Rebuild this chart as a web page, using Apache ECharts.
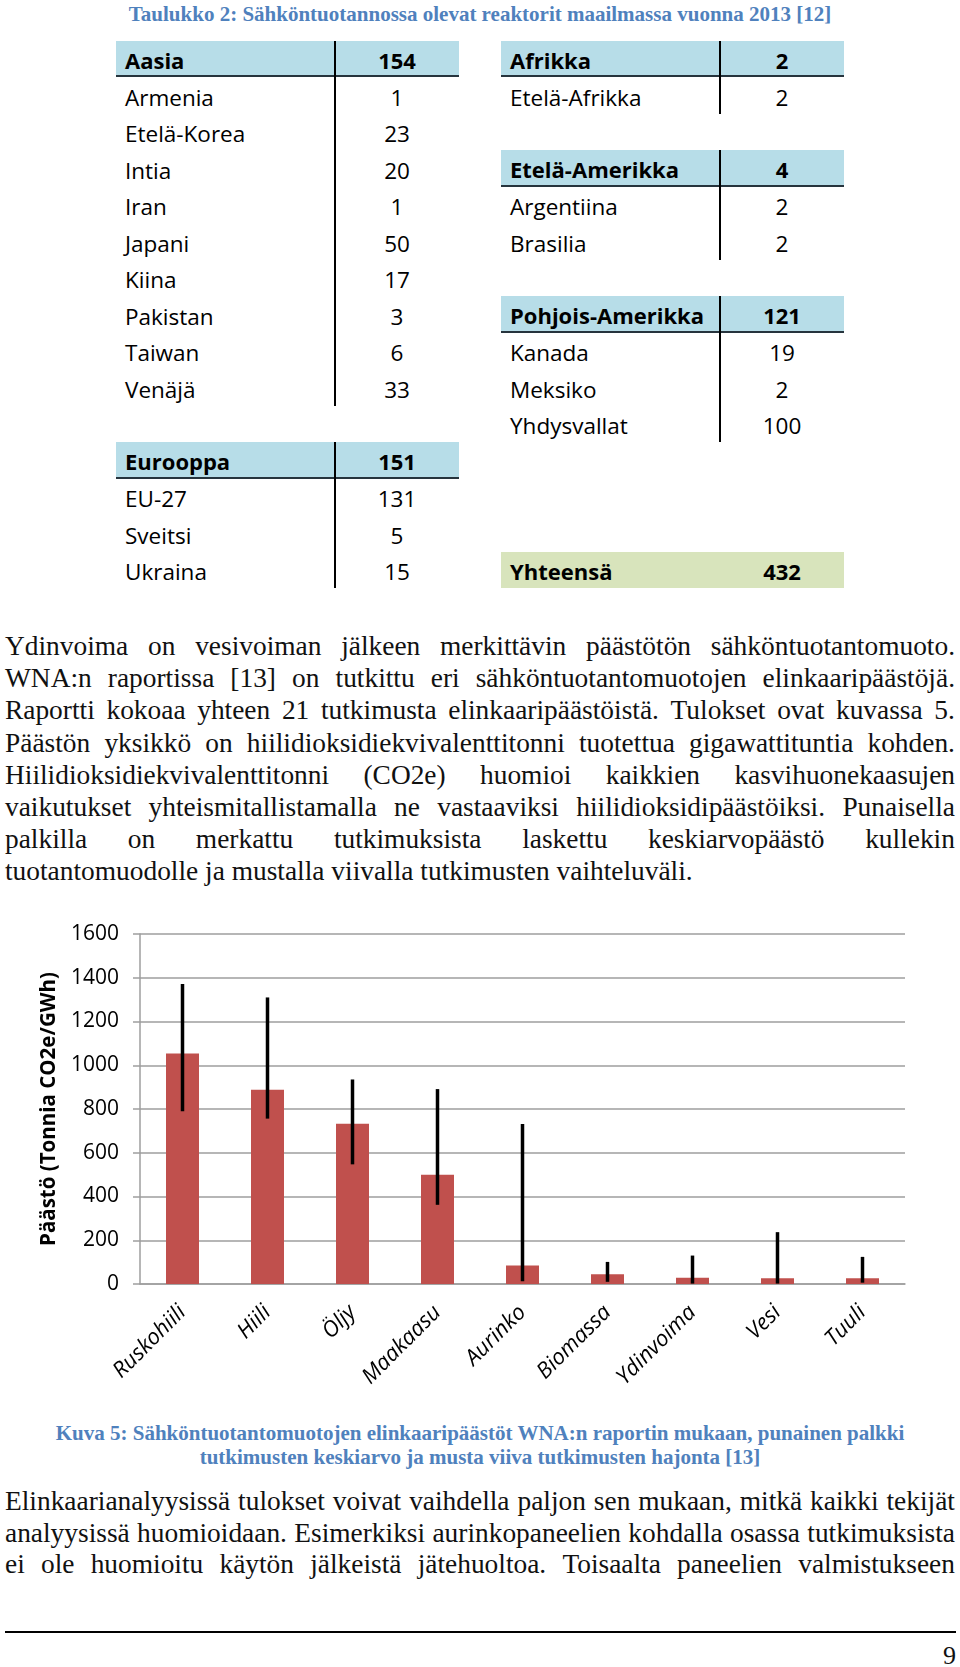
<!DOCTYPE html>
<html>
<head>
<meta charset="utf-8">
<script src="https://cdn.jsdelivr.net/npm/echarts@6/dist/echarts.min.js"></script>
<style>
  html, body { margin:0; padding:0; background:#fff; }
  body { width:960px; height:1667px; position:relative; overflow:hidden; }
  .abs { position:absolute; }
  .title { left:0; width:960px; top:1px; text-align:center; font-family:"Liberation Serif", serif; font-weight:bold; font-size:21px; line-height:26px; color:#4F81BD; white-space:nowrap; }
  .cell { position:absolute; font-family:"Open Sans", sans-serif; font-size:22.5px; line-height:36.5px; height:36.5px; box-sizing:border-box; padding-top:2.5px; color:#000; white-space:nowrap; }
  .cell.b { font-weight:bold; font-size:22px; padding-top:1px; }
  .para { position:absolute; left:5px; width:950px; font-family:"Liberation Serif", serif; font-size:27.4px; color:#111; }
  .line { display:flex; justify-content:space-between; white-space:nowrap; overflow:visible; }
  .line.last { display:block; }
  .caption { left:0; width:960px; text-align:center; font-family:"Liberation Serif", serif; font-weight:bold; font-size:21px; line-height:24.3px; color:#4F81BD; white-space:nowrap; }
</style>
</head>
<body>
<div class="abs title" id="title">Taulukko 2: Sähköntuotannossa olevat reaktorit maailmassa vuonna 2013 [12]</div>
<div id="table"></div>
<div class="para" id="p1" style="top:630px;"></div>
<div class="abs" id="chart" style="left:0;top:880px;width:960px;height:540px;"></div>
<div class="abs caption" id="caption" style="top:1421px;"></div>
<div class="para" id="p2" style="top:1486px;"></div>
<div class="abs" style="left:5px;top:1630.5px;width:951px;height:2px;background:#000;"></div>
<div class="abs" style="right:4px;top:1641px;font-family:'Liberation Serif',serif;font-size:26px;line-height:30px;color:#111;">9</div>
<script>
// ---------- Table data ----------
const asiaTotal = 154;
const asiaCountries = ['Armenia','Etelä-Korea','Intia','Iran','Japani','Kiina','Pakistan','Taiwan','Venäjä'];
const asiaReactors = [1, 23, 20, 1, 50, 17, 3, 6, 33];
const europeTotal = 151;
const europeCountries = ['EU-27','Sveitsi','Ukraina'];
const europeReactors = [131, 5, 15];
const africaTotal = 2;
const africaCountries = ['Etelä-Afrikka'];
const africaReactors = [2];
const southAmericaTotal = 4;
const southAmericaCountries = ['Argentiina','Brasilia'];
const southAmericaReactors = [2, 2];
const northAmericaTotal = 121;
const northAmericaCountries = ['Kanada','Meksiko','Yhdysvallat'];
const northAmericaReactors = [19, 2, 100];
const grandTotal = 432;

// ---------- Chart data ----------
const categories = ['Ruskohiili','Hiili','Öljy','Maakaasu','Aurinko','Biomassa','Ydinvoima','Vesi','Tuuli'];
const meanEmission = [1054, 888, 733, 499, 85, 45, 29, 26, 26];
const lowEmission  = [790, 756, 547, 362, 13, 10, 2, 2, 6];
const highEmission = [1372, 1310, 935, 891, 731, 101, 130, 237, 124];
const yTicks = ['0','200','400','600','800','1000','1200','1400','1600'];

// ---------- Text ----------
const para1 = [
  'Ydinvoima on vesivoiman jälkeen merkittävin päästötön sähköntuotantomuoto.',
  'WNA:n raportissa [13] on tutkittu eri sähköntuotantomuotojen elinkaaripäästöjä.',
  'Raportti kokoaa yhteen 21 tutkimusta elinkaaripäästöistä. Tulokset ovat kuvassa 5.',
  'Päästön yksikkö on hiilidioksidiekvivalenttitonni tuotettua gigawattituntia kohden.',
  'Hiilidioksidiekvivalenttitonni (CO2e) huomioi kaikkien kasvihuonekaasujen',
  'vaikutukset yhteismitallistamalla ne vastaaviksi hiilidioksidipäästöiksi. Punaisella',
  'palkilla on merkattu tutkimuksista laskettu keskiarvopäästö kullekin',
  'tuotantomuodolle ja mustalla viivalla tutkimusten vaihteluväli.'
];
const para2 = [
  'Elinkaarianalyysissä tulokset voivat vaihdella paljon sen mukaan, mitkä kaikki tekijät',
  'analyysissä huomioidaan. Esimerkiksi aurinkopaneelien kohdalla osassa tutkimuksista',
  'ei ole huomioitu käytön jälkeistä jätehuoltoa. Toisaalta paneelien valmistukseen'
];
const captionLines = [
  'Kuva 5: Sähköntuotantomuotojen elinkaaripäästöt WNA:n raportin mukaan, punainen palkki',
  'tutkimusten keskiarvo ja musta viiva tutkimusten hajonta [13]'
];

// ---------- Build table ----------
const tbl = document.getElementById('table');
const ROW_TOP = 40.7, ROW_H = 36.5;
function addBlock(x0, xDiv, x1, startRow, headName, headVal, names, vals, isTotal) {
  const top = ROW_TOP + ROW_H * startRow;
  const nRows = 1 + names.length;
  const hb = document.createElement('div');
  hb.style.cssText = `position:absolute;left:${x0}px;top:${top}px;width:${x1-x0}px;height:${ROW_H}px;background:${isTotal?'#D8E4BC':'#B7DDE8'};` +
    (isTotal ? '' : 'border-bottom:2px solid #26343d;box-sizing:border-box;');
  tbl.appendChild(hb);
  if (!isTotal) {
    const dv = document.createElement('div');
    dv.style.cssText = `position:absolute;left:${xDiv-0.75}px;top:${top}px;width:1.5px;height:${ROW_H*nRows}px;background:#000;`;
    tbl.appendChild(dv);
  }
  const rows = [[headName, headVal, true]].concat(names.map((n,i)=>[n, vals[i], false]));
  rows.forEach((r, i) => {
    const y = top + ROW_H * i;
    const a = document.createElement('div');
    a.className = 'cell' + (r[2] ? ' b' : '');
    a.style.left = (x0 + 9) + 'px'; a.style.top = y + 'px';
    a.textContent = r[0];
    tbl.appendChild(a);
    const b = document.createElement('div');
    b.className = 'cell' + (r[2] ? ' b' : '');
    b.style.left = xDiv + 'px'; b.style.width = (x1 - xDiv) + 'px'; b.style.textAlign = 'center'; b.style.top = y + 'px';
    b.textContent = String(r[1]);
    tbl.appendChild(b);
  });
}
addBlock(116, 335, 459, 0, 'Aasia', asiaTotal, asiaCountries, asiaReactors, false);
addBlock(116, 335, 459, 11, 'Eurooppa', europeTotal, europeCountries, europeReactors, false);
addBlock(501, 720, 844, 0, 'Afrikka', africaTotal, africaCountries, africaReactors, false);
addBlock(501, 720, 844, 3, 'Etelä-Amerikka', southAmericaTotal, southAmericaCountries, southAmericaReactors, false);
addBlock(501, 720, 844, 7, 'Pohjois-Amerikka', northAmericaTotal, northAmericaCountries, northAmericaReactors, false);
addBlock(501, 720, 844, 14, 'Yhteensä', grandTotal, [], [], true);

// ---------- Paragraphs (each line justified edge to edge, last line left) ----------
function fillPara(id, lines, lastLeft, lh) {
  const el = document.getElementById(id);
  lines.forEach((t, i) => {
    const d = document.createElement('div');
    const isLast = lastLeft && i === lines.length - 1;
    d.className = 'line' + (isLast ? ' last' : '');
    d.style.height = lh + 'px'; d.style.lineHeight = lh + 'px';
    if (isLast) {
      d.textContent = t;
    } else {
      t.split(' ').forEach(w => { const s = document.createElement('span'); s.textContent = w; d.appendChild(s); });
    }
    el.appendChild(d);
    if (!isLast) {
      let nat = 0; d.querySelectorAll('span').forEach(s => nat += s.getBoundingClientRect().width);
      const words = d.children.length;
      const minGap = 6 * (words - 1);
      if (nat + minGap > 950) {
        const chars = t.replace(/ /g, '').length;
        d.style.letterSpacing = (-(nat + minGap - 950) / chars) + 'px';
      }
    }
  });
}
fillPara('p1', para1, true, 32.2);
fillPara('p2', para2, false, 31.7);
const cap = document.getElementById('caption');
captionLines.forEach(t => { const d = document.createElement('div'); d.textContent = t; cap.appendChild(d); });

// ---------- Chart ----------
const chart = echarts.init(document.getElementById('chart'), null, { renderer: 'canvas' });
const gridColor = '#9e9e9e';
chart.setOption({
  animation: false,
  grid: { left: 140, right: 55, top: 54, height: 350, containLabel: false },
  xAxis: {
    type: 'category',
    data: categories,
    axisLine: { show: true, lineStyle: { color: gridColor, width: 1.5 } },
    axisTick: { show: false },
    axisLabel: { rotate: 45, margin: 25, interval: 0, color: '#000', fontFamily: 'Open Sans', fontStyle: 'italic', fontSize: 22 }
  },
  yAxis: {
    type: 'value',
    min: 0, max: 1600, interval: 200,
    name: 'Päästö (Tonnia CO2e/GWh)',
    nameLocation: 'middle',
    nameRotate: 90,
    nameGap: 79,
    nameTextStyle: { color: '#000', fontFamily: 'Open Sans', fontWeight: 'bold', fontSize: 20.5 },
    axisLine: { show: true, lineStyle: { color: gridColor, width: 1.5 } },
    axisTick: { show: true, length: 7, lineStyle: { color: gridColor, width: 1.5 } },
    axisLabel: { margin: 21, color: '#000', fontFamily: 'Open Sans', fontSize: 21,
      formatter: (v) => yTicks[Math.round(v / 200)] },
    splitLine: { show: true, lineStyle: { color: gridColor, width: 1.5 } }
  },
  series: [
    {
      type: 'bar',
      data: meanEmission,
      barWidth: 33,
      itemStyle: { color: '#C0504D' },
      z: 2
    },
    {
      type: 'custom',
      data: categories.map((c, i) => [i, lowEmission[i], highEmission[i]]),
      encode: { x: 0, y: [1, 2] },
      z: 3,
      renderItem: function (params, api) {
        const x = api.value(0);
        const lo = api.coord([x, api.value(1)]);
        const hi = api.coord([x, api.value(2)]);
        return { type: 'line', shape: { x1: lo[0], y1: lo[1], x2: hi[0], y2: hi[1] }, style: { stroke: '#000', lineWidth: 3.5 } };
      }
    }
  ]
});
</script>
</body>
</html>
